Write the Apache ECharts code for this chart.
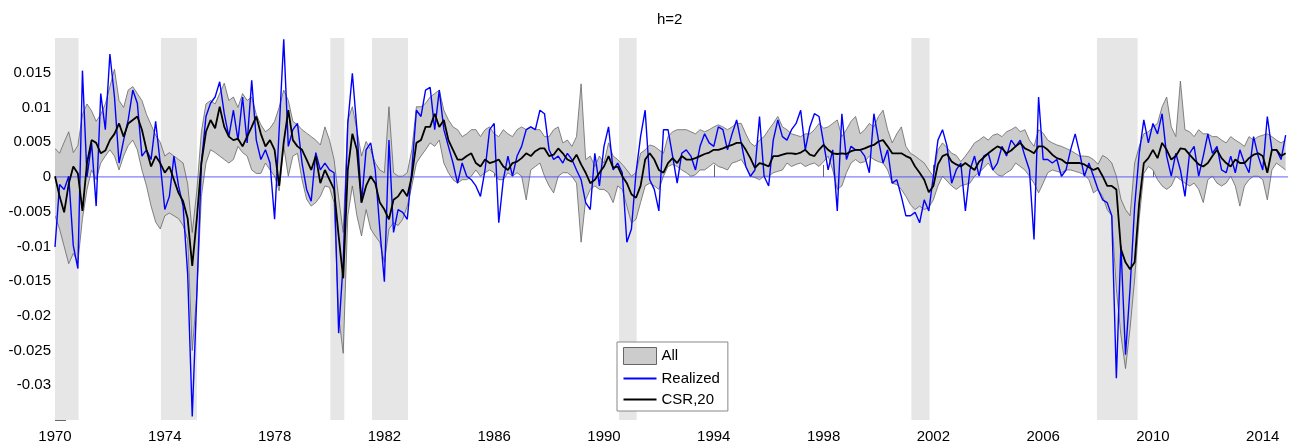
<!DOCTYPE html>
<html>
<head>
<meta charset="utf-8">
<title>h=2</title>
<script src="https://cdn.jsdelivr.net/npm/echarts@6/dist/echarts.min.js"></script>
<style>
html, body { margin: 0; padding: 0; background: #fff; }
#main { width: 1293px; height: 447px; }
</style>
</head>
<body>
<div id="main"></div>
<script>
// values in units of 0.001, one row per year, bi-monthly samples from Jan 1970
var realized = [
	-10.1, -1.1, -1.8, 0.1, -9.9, -13.2,
	15.3, 0, 4.9, -4.2, 12, 6.8,
	17.7, 11.5, 2, 5.3, 8.2, 12.5,
	10.6, 3, 3.9, 2.5, 8, 2,
	-4.7, -2.8, 3, -1.3, -4.2, -14,
	-34.5, -17, 2, 8.7, 10.6, 11.5,
	13.7, 9.1, 5.8, 9.6, 5.3, 11.5,
	4.9, 13.9, 5.3, 2.5, 3.9, 2,
	-6.1, 6.8, 19.8, 4.4, 6.8, 7.7,
	2, -1.8, -3.5, 3.5, 1, 2,
	1, 0.6, -22.5, -12.3, 7.7, 14.9,
	6.8, -3.7, 3.9, 4.9, 1, -7.5,
	-15.1, 5.3, -8, -4.7, -5.1, -6.1,
	1, 9.6, 8.7, 12.5, 12.9, 6.8,
	12.5, 6.8, 4.4, 2, -0.9, 2,
	0.1, -0.4, -1.3, -2.8, 1, 6.8,
	7.7, -6.6, -0.4, 3, 0.1, 3,
	4.4, 6.8, 7.2, 6.8, 9.6, 9.1,
	3.9, 2.5, 3, 2, 3.4, 2.5,
	1, -0.4, -3.7, -4.7, 3.4, -1.3,
	4.4, 7.2, 1, 2, 0.6, -9.4,
	-7.5, 0.6, 5.8, 9.6, -0.4, -1.8,
	-4.9, 6.8, 6.8, 3, -0.9, 3.4,
	3.9, 3, 1, 4.4, 6.2, 4.9,
	4.4, 7.2, 6.8, 3.9, 6.2, 8.2,
	4.9, 1.5, 0.1, 1, 8.7, 0.1,
	-1.3, 5.3, 8.2, 5.8, 5.3, 6.8,
	7.7, 9.6, 3.9, 7.2, 9.1, 8.7,
	4.9, 1, 3.9, -4.9, 9.1, 2.5,
	4.4, 3.9, 3.9, 3, 0.6, 9.1,
	5.3, 2, 3.9, -0.9, -0.4, -2.8,
	-5.6, -5.6, -5.1, -6.6, -3.3, -4.9,
	0.1, 5.3, 6.8, 4.4, -0.9, 1,
	2, -4.9, 1, 3, 0.1, 3,
	3.4, 1, 2, 4.4, 3, 5.3,
	4.4, 5.3, 3, 1, -9, 11.5,
	2.5, 2.5, 2, 2.5, 0.1, 1,
	3.9, 6.2, 3.4, 0.1, 2, 0.1,
	-1.8, -3.3, -3.7, -5.6, -29, -9.9,
	-25.6, -16, -4.2, 3.4, 8.2, 4.9,
	7.7, 6.2, 9.1, 3, 0.1, 3.4,
	1, -2.8, 3.4, 4.4, 0.1, 3,
	6.2, 3.4, 4.4, 1, 0.6, 3,
	0.6, 3.9, 2, 0.6, 5.8, 3,
	1, 8.7, 3.9, 3.9, 2.5, 6
];

var csr = [
	0.1, -2.8, -5.1, -1, 1.5, 0.5,
	-4.9, 2, 5.3, 4.9, 3.4, 3.8,
	5.3, 6.2, 7.7, 5.8, 7.7, 8.2,
	8.7, 6.8, 3.9, 1.5, 3, 2,
	0.6, 1.5, -0.4, -2.3, -3.5, -6,
	-12.8, -6, 2, 6.5, 8.2, 7,
	10.1, 7.2, 5.8, 5.3, 5.5, 4.4,
	5.8, 7.2, 8.7, 6.2, 4.4, 5.3,
	3.9, -1.3, 5, 9.6, 5.3, 4.4,
	3.9, 2.5, 1, 3, -0.9, 1,
	-0.4, -1.8, -8.5, -14.6, 1, 6.2,
	3.9, -3.7, -1.3, 0.1, -0.9, -3.7,
	-4.7, -6.1, -3.3, -2.8, -1.8, -2.8,
	0.1, 4.9, 5.3, 7.2, 7.2, 9.1,
	7.2, 8.2, 5.3, 3.9, 2.5, 2.5,
	3, 3.4, 2, 1.5, 2.5, 2,
	2.2, 2.5, 1.5, 1, 2, 2.2,
	2.7, 3.4, 3, 3.7, 4.1, 4.1,
	3, 3.2, 4.1, 3.4, 2.5, 2.2,
	3.2, 1.8, 0.6, -0.9, -0.4, 0.6,
	1.5, 3, 1.3, 1.5, 0.1, -0.9,
	-2.5, -3, -1.3, 2.5, 3.4, 2.5,
	1, 0.6, 2, 2.7, 2, 3,
	2.5, 2.5, 2.7, 3, 3.3, 3.5,
	3.9, 3.9, 4.1, 4.4, 4.6, 4.9,
	4.9, 3.9, 2.7, 1.3, 2, 1.8,
	1.5, 3, 3, 3.2, 3.4, 3.4,
	3.3, 3.5, 3.9, 3.2, 3, 3.9,
	4.6, 3.9, 3.4, 3.3, 3.4, 3.3,
	3.7, 3.9, 3.9, 4.1, 4.4, 4.6,
	5.1, 5.3, 4.4, 3.4, 3.4, 3.4,
	3, 2.7, 1.5, 0.6, -0.4, -2.2,
	-1.3, 1.8, 3, 3.3, 2.2, 1.8,
	1.5, 2, 1.5, 1, 2.2, 2.8,
	3.4, 3.9, 4.4, 4.1, 3.4, 3.8,
	4.4, 4.9, 4.1, 3.8, 3.4, 4.4,
	4.4, 3.9, 3.2, 2.7, 2.5, 2,
	2, 2, 2, 1.8, 1.4, 1,
	1.3, 0.1, -1.3, -1.3, -1.8, -10.4,
	-12.3, -13.3, -12.3, -3.7, 2, 2.7,
	3.9, 2.7, 4.9, 3.9, 2.5, 3,
	4.1, 4, 3.2, 2.5, 1.8, 1.5,
	2, 3, 3.9, 2.7, 2, 1.5,
	2.5, 2, 2, 2.7, 3.2, 3.4,
	3, 0.6, 3.9, 3.9, 3, 3.4
];

var allHigh = [
	4.1, 3.4, 5, 6.5, 3.5, 4.5,
	9, 10.5, 9.5, 8, 9, 10.5,
	13, 15.5, 11, 10, 12.5, 13,
	12, 11, 9, 7.5, 6, 5,
	3, 3.5, 3, 2.5, 2, -1,
	-8, -2, 6.5, 10.5, 11, 10.5,
	12, 13.5, 11, 11.5, 10, 12,
	11, 11.5, 9, 7.5, 6.5, 7,
	8, 10, 12.5, 11, 8, 7.5,
	6.8, 6.3, 5.8, 5.3, 4.6, 7.2,
	5.3, 2.5, -3, -8, 8.2, 10.1,
	6.8, 3, 5.1, 3.9, 2, 1,
	0.6, 10.1, 0.6, 0.1, 0.1, 0.6,
	3.9, 10.1, 10.1, 10.6, 11.5, 12,
	12.5, 9.6, 8.2, 7.2, 6.8, 5.8,
	6.2, 6.8, 6.8, 5.8, 6.8, 7.2,
	6.2, 5.8, 6.8, 6.2, 5.8, 6.8,
	7.2, 6.8, 7.2, 6.8, 6.8, 5.8,
	5.8, 6.8, 7.2, 4.9, 5.3, 4.4,
	5.8, 13.4, 2.5, 3, 1.5, 3,
	2, 4.9, 3, 2.5, 1.8, 1,
	0.1, 0.6, 3.4, 3.9, 4.6, 4.4,
	3.9, 3.4, 5.8, 6.5, 6.8, 6.8,
	6.8, 6.5, 6.2, 6.8, 6.5, 6.8,
	7.2, 7.5, 7.2, 6.8, 7.2, 7.7,
	7.7, 6.2, 4.9, 4.4, 5.3, 5.8,
	6.8, 7.7, 8.7, 7.2, 6.8, 6.2,
	6, 5.8, 6.2, 6.2, 6.8, 7.7,
	7, 7.2, 7.7, 8.2, 5.8, 6.8,
	8, 8.7, 6.2, 6.8, 7.7, 7.2,
	8.7, 9.6, 6.8, 4.9, 6.2, 7.2,
	4.4, 3.4, 3, 2.5, 2, 1,
	0.1, 3.9, 4.9, 4.2, 3.4, 3.1,
	2.2, 3, 3.9, 4.9, 5.3, 5.8,
	5.3, 6, 6.2, 5.8, 6.5, 6.8,
	7.2, 6.5, 6.8, 5.3, 4.4, 6.8,
	6.3, 5.3, 4.9, 4.6, 4.4, 4.1,
	3.8, 3.4, 3, 3, 2.9, 2.5,
	1.8, 3.1, 2.7, 2, 0.1, -3.2,
	-4.7, -5.6, 2, 4.4, 6.2, 6.5,
	7.2, 7.7, 10.1, 11.5, 7.2, 5.8,
	13.8, 6.8, 6.5, 5.8, 6.8, 6.2,
	6.2, 5.8, 5.8, 5.3, 4.9, 5.8,
	5.3, 4.9, 4.4, 5.8, 5.3, 5.8,
	6, 6.2, 5.8, 5.3, 4.9, 5.3
];

var allLow = [
	-5.6, -7.5, -10, -12.5, -11, -12.3,
	-6, -1.8, 1, -0.4, 2, 3,
	3.9, 3, 1, 3, 4.5, 5.3,
	3.9, 1, -1.3, -4.2, -6.5, -7.5,
	-5.6, -5.2, -5.6, -6, -7, -9,
	-25, -17, -2.8, 2, 3.9, 3.5,
	3, 2.5, 2, 2.5, 4.4, 3.5,
	3, 1, 0.5, 0.5, 2, 1,
	0.1, -2, 4.4, 0.1, 3, 3.4,
	-0.4, -3.2, -4.2, -3.7, -2.8, -1.3,
	-1.5, -3.7, -20, -25.4, -5.6, -1.3,
	-5.6, -8.5, -4.7, -7.5, -8.5, -9.4,
	-12.3, -7.5, -6.6, -7, -6.1, -4.2,
	-1.3, 2, 3, 3.9, 4.9, 4.4,
	5.3, 2, 0.6, -0.4, -0.9, -0.4,
	-0.4, 0.1, 1, 0.1, 0.6, 1,
	0.6, -0.4, -0.4, 0.6, 0.1, 0.6,
	0.1, -3.3, 1, 1.5, 2, 0.1,
	-1.3, -2.3, 0.1, 0.6, 0.6, 0.1,
	-0.9, -9.4, -3.3, -1.8, -1.3, -1.8,
	-1.8, -2.3, -3.7, -1.3, -1.8, -4.2,
	-6.6, -6.1, -3.7, -1.3, -0.9, -1.3,
	-1.8, 0.1, 1.5, 1.8, 1.5, 1,
	0.6, 0.1, 0.3, 1, 1, 1.5,
	2, 1.5, 1.3, 1, 2, 2.2,
	2.5, 1.5, 0.1, -0.1, -0.4, 0.1,
	0.1, 0.6, 0.8, 1, 2, 1.5,
	1.8, 2, 1.5, 1.8, 2, 1.5,
	2.2, 3, 1, -1.8, -1.3, 0.6,
	2, 2.5, 2, 2.2, 3, 2.5,
	2.2, 2, 1, -0.9, -1.1, -1.8,
	-2.8, -4, -4.7, -4.2, -4.7, -4.4,
	-3.3, -1.3, 0.1, -0.6, -1.3, -1.8,
	-1.3, -1.1, -0.9, 0.1, 0.6, 1.3,
	2, 1, 0.3, 0.1, 0.6, 1,
	2, 1.5, 1, 0.1, -0.9, -2.3,
	-0.9, 0.6, 1, 0.8, 0.6, 1,
	1, 0.8, 0.6, 0.3, -0.4, -2.3,
	-1.8, -2.8, -4.7, -5.6, -16.1, -22.8,
	-27.6, -21.8, -14.7, -6, 0.5, 1.5,
	1, -0.4, -1.3, -1.8, -1.3, 0.1,
	-0.4, -0.9, -1.3, -0.9, -1.8, -3.7,
	-0.4, 0.1, -0.9, -1.3, -0.9, 0.1,
	-1.3, -4.2, -1.3, -0.4, 0.1, 0.1,
	-0.4, -3.3, 1, 2, 1.5, 1
];

// recessions (shaded)
var recStart = [1970, 1973.86, 1980.03, 1981.55, 1990.55, 2001.2, 2007.96];
var recEnd = [1970.86, 1975.17, 1980.54, 1982.86, 1991.19, 2001.86, 2009.44];

var xTicks = [1970, 1974, 1978, 1982, 1986, 1990, 1994, 1998, 2002, 2006, 2010, 2014];
var yTicks = [-0.035, -0.03, -0.025, -0.02, -0.015, -0.01, -0.005, 0, 0.005, 0.01, 0.015];
var yLabels = [-0.03, -0.025, -0.02, -0.015, -0.01, -0.005, 0, 0.005, 0.01, 0.015];

var startYear = 1970, perYear = 6, endYear = 2014.92;
var fontName = "'Liberation Sans', Arial, Helvetica, sans-serif";

function dateAt(i) {
	return startYear + i / perYear;
}

function toPoints(arr) {
	return arr.map(function(v, i) {
		return [dateAt(i), v / 1000];
	});
}

var bandData = allHigh.map(function(v, i) {
	return [dateAt(i), allLow[i] / 1000, v / 1000];
});

var recAreas = [];
for (var i = 0; i < recStart.length; i++) {
	recAreas.push([{ xAxis: recStart[i] }, { xAxis: recEnd[i] }]);
}

// band drawn once as one polygon, outlined top and bottom
function renderBand(params, api) {
	if (params.dataIndex !== 0) return null;
	var up = [], lo = [];
	for (var j = 0; j < bandData.length; j++) {
		up.push(api.coord([bandData[j][0], bandData[j][2]]));
		lo.push(api.coord([bandData[j][0], bandData[j][1]]));
	}
	var poly = up.concat(lo.slice().reverse());
	return {
		type: 'group',
		children: [
			{ type: 'polygon', shape: { points: poly }, style: { fill: '#cccccc', stroke: null } },
			{ type: 'polyline', shape: { points: up }, style: { fill: null, stroke: '#666', lineWidth: 0.8 } },
			{ type: 'polyline', shape: { points: lo }, style: { fill: null, stroke: '#666', lineWidth: 0.8 } }
		]
	};
}

var myChart = echarts.init(document.getElementById("main"));

var option = {
	animation: false,
	backgroundColor: '#fff',
	title: {
		text: 'h=2',
		left: 657,
		top: 12,
		padding: 0,
		textStyle: { fontSize: 15, fontWeight: 'normal', color: '#000', fontFamily: fontName }
	},
	legend: {
		orient: 'vertical',
		left: 617,
		top: 342,
		z: 10,
		itemWidth: 33,
		itemHeight: 17,
		itemGap: 6,
		padding: [5, 8, 4, 6],
		backgroundColor: '#fff',
		borderColor: '#888',
		borderWidth: 1,
		selectedMode: false,
		textStyle: { fontSize: 15, color: '#000', fontFamily: fontName },
		data: [
			{ name: 'All', icon: 'rect', itemStyle: { color: '#cccccc', borderColor: '#666', borderWidth: 1 } },
			{ name: 'Realized', icon: 'path://M0,0 L33,0 L33,2 L0,2 Z', itemStyle: { color: '#0000ff' } },
			{ name: 'CSR,20', icon: 'path://M0,0 L33,0 L33,2 L0,2 Z', itemStyle: { color: '#000' } }
		]
	},
	grid: {
		left: 55,
		right: 5,
		top: 38,
		bottom: 27,
		containLabel: false,
		outerBoundsMode: 'none'
	},
	xAxis: {
		type: 'value',
		min: startYear,
		max: endYear,
		axisLine: { show: false },
		splitLine: { show: false },
		axisTick: { inside: true, length: 12, lineStyle: { color: '#666' }, customValues: xTicks },
		axisLabel: {
			customValues: xTicks,
			fontSize: 15,
			color: '#000',
			fontFamily: fontName,
			margin: 9,
			formatter: function(v) { return String(Math.round(v)); }
		}
	},
	yAxis: {
		type: 'value',
		min: -0.035,
		max: 0.02,
		interval: 0.005,
		axisLine: { show: false },
		splitLine: { show: false },
		axisTick: { inside: true, length: 11, lineStyle: { color: '#666' }, customValues: yTicks },
		axisLabel: {
			customValues: yLabels,
			fontSize: 15,
			color: '#000',
			fontFamily: fontName,
			margin: 4,
			formatter: function(v) { return String(+v.toFixed(3)); }
		}
	},
	series: [
		{
			name: 'recessions',
			type: 'line',
			data: [],
			z: 1,
			silent: true,
			markArea: {
				silent: true,
				itemStyle: { color: '#e6e6e6' },
				data: recAreas
			}
		},
		{
			name: 'All',
			type: 'custom',
			data: bandData,
			encode: { x: 0, y: [1, 2] },
			renderItem: renderBand,
			clip: true,
			z: 2,
			silent: true,
			itemStyle: { color: '#cccccc' }
		},
		{
			name: 'zero',
			type: 'line',
			data: [[startYear, 0], [endYear, 0]],
			symbol: 'none',
			z: 3,
			silent: true,
			lineStyle: { color: '#3c3cff', width: 0.8 }
		},
		{
			name: 'Realized',
			type: 'line',
			data: toPoints(realized),
			symbol: 'none',
			z: 4,
			itemStyle: { color: '#0000ff' },
			lineStyle: { color: '#0000ff', width: 1.4 }
		},
		{
			name: 'CSR,20',
			type: 'line',
			data: toPoints(csr),
			symbol: 'none',
			z: 5,
			itemStyle: { color: '#000' },
			lineStyle: { color: '#000', width: 1.8 }
		}
	]
};

myChart.setOption(option);
</script>
</body>
</html>
